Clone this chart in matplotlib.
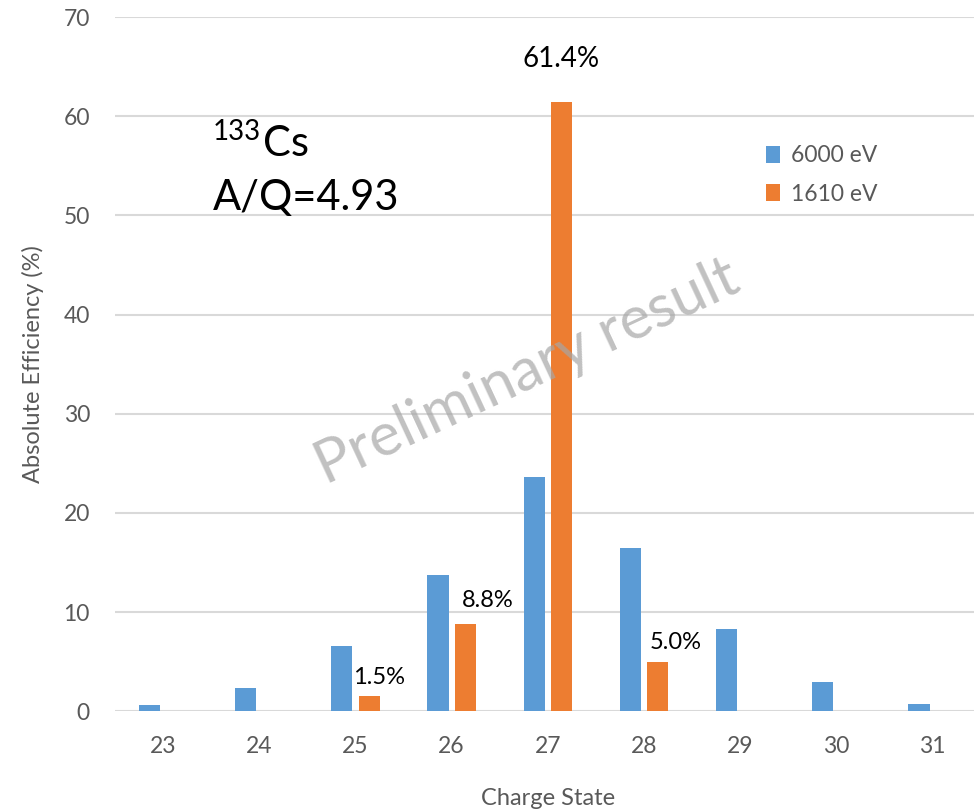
import numpy as np
import matplotlib.pyplot as plt

charge_states = [23, 24, 25, 26, 27, 28, 29, 30, 31]
eff_6000 = [0.6, 2.3, 6.6, 13.7, 23.6, 16.5, 8.3, 2.95, 0.7]
eff_1610 = [0, 0, 1.5, 8.8, 61.4, 5.0, 0, 0, 0]
series_names = ['6000 eV', '1610 eV']

plt.rcParams['font.family'] = ['Lato', 'DejaVu Sans']

blue = '#5B9BD5'
orange = '#ED7D31'
tick_grey = '#595959'

fig = plt.figure(figsize=(9.74, 8.10), dpi=100)
ax = fig.add_axes([0.118, 0.122, 0.889, 0.857])

x = np.array(charge_states)
w = 0.22
off = 0.142
ax.bar(x - off, eff_6000, w, color=blue, label=series_names[0], zorder=3)
mask = np.array(eff_1610) > 0
ax.bar(x[mask] + off, np.array(eff_1610)[mask], w, color=orange,
       label=series_names[1], zorder=3)

# percentage labels on the 1610 eV bars
label_style = {25: (7, 6, 17), 26: (16, 9, 17), 27: (0, 22, 20), 28: (13, 6, 17)}
for xi, v in zip(x[mask], np.array(eff_1610)[mask]):
    dx, dy, fs = label_style[int(xi)]
    ax.annotate(f'{v:.1f}%', xy=(xi + off, v), xytext=(dx, dy),
                textcoords='offset points', ha='center', va='bottom',
                fontsize=fs, color='black')

ax.set_xlim(22.5, 31.5)
ax.set_ylim(0, 70)
ax.set_xticks(charge_states)
ax.set_yticks(np.arange(0, 71, 10))
ax.tick_params(length=0, labelsize=16.5, colors=tick_grey)
ax.tick_params(axis='x', pad=18)
ax.tick_params(axis='y', pad=18)
for s in ax.spines.values():
    s.set_visible(False)
ax.grid(axis='y', color='#D9D9D9', lw=1.5, zorder=0)
ax.set_axisbelow(True)

ax.set_xlabel('Charge State', fontsize=17, color=tick_grey, labelpad=22)
ax.set_ylabel('Absolute Efficiency (%)', fontsize=17, color=tick_grey, labelpad=14)

leg = ax.legend(loc='upper left', bbox_to_anchor=(0.752, 0.815), frameon=False,
                fontsize=16.5, handlelength=0.6, handleheight=0.75,
                handletextpad=0.5, labelspacing=0.75, borderpad=0,
                borderaxespad=0)
for t in leg.get_texts():
    t.set_color(tick_grey)

# isotope and A/Q annotation
t133 = fig.text(213 / 974, 1 - 140 / 810, '133', fontsize=20, color='black',
                ha='left', va='baseline')
ax.annotate('Cs', xy=(1, 0), xycoords=t133, xytext=(1, -8),
            textcoords='offset points', ha='left', va='baseline',
            fontsize=30, color='black')
fig.text(213 / 974, 1 - 210 / 810, 'A/Q=4.93', fontsize=30, color='black',
         ha='left', va='baseline')

# watermark
fig.text(527 / 974, 1 - 372 / 810, 'Preliminary result', fontsize=43,
         color='#A6A6A6', alpha=0.7, rotation=25, ha='center', va='center',
         zorder=10)

fig.savefig('out.png', dpi=100)
